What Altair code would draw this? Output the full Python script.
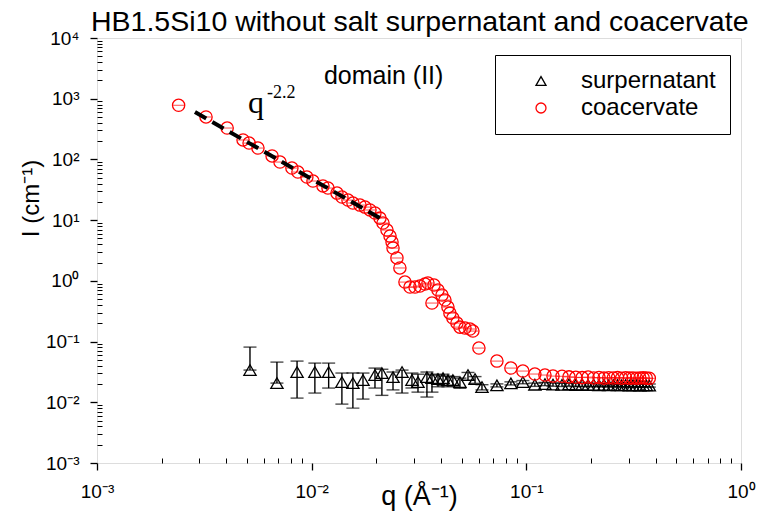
import altair as alt
import pandas as pd

# ---------------- data ----------------
coac_q = [0.00240, 0.00322, 0.00404, 0.00479, 0.00511, 0.00562, 0.00654, 0.00712, 0.00809, 0.00863,
          0.00950, 0.01014, 0.01129, 0.01191, 0.01312, 0.01384, 0.01476, 0.01557, 0.01679, 0.01771,
          0.01869, 0.01972, 0.02081, 0.02149, 0.02243, 0.02317, 0.02368, 0.02393, 0.02496, 0.02576,
          0.02720, 0.02871, 0.03030, 0.03194, 0.03371, 0.03481, 0.03634, 0.03714, 0.03877, 0.04046,
          0.04176, 0.04312, 0.04406, 0.04548, 0.04751, 0.04906, 0.05176, 0.05462, 0.05637, 0.06013,
          0.07294, 0.08474, 0.09636, 0.1096, 0.1221, 0.1331, 0.1466, 0.158, 0.170, 0.182,
          0.194, 0.206, 0.218, 0.230, 0.242, 0.254, 0.266, 0.278, 0.290, 0.302,
          0.314, 0.326, 0.338, 0.350, 0.362, 0.374]
coac_I = [780, 500, 329, 209, 186, 154, 114, 90.6, 72.1, 62.0,
          51.3, 44.1, 36.5, 33.8, 27.9, 24.0, 21.4, 19.1, 17.7, 16.4,
          14.7, 13.1, 10.8, 8.96, 6.87, 5.47, 4.36, 3.47, 2.38, 1.63,
          0.955, 0.790, 0.790, 0.821, 0.885, 0.920, 0.431, 0.853, 0.705, 0.583,
          0.483, 0.370, 0.294, 0.244, 0.202, 0.173, 0.167, 0.161, 0.149, 0.0782,
          0.0477, 0.0366, 0.0327, 0.0292, 0.0281, 0.0270, 0.0268, 0.0262, 0.0258, 0.0255,
          0.0260, 0.0252, 0.0256, 0.0250, 0.0254, 0.0251, 0.0255, 0.0249, 0.0253, 0.0250,
          0.0252, 0.0249, 0.0251, 0.0253, 0.0250, 0.0248]

sup_q = [0.00516, 0.00689, 0.00855, 0.01035, 0.01200, 0.01383, 0.01556, 0.01734, 0.01972, 0.02124,
         0.02393, 0.02636, 0.02932, 0.03128, 0.03443, 0.03634, 0.03877, 0.04092, 0.04312, 0.04548,
         0.04906, 0.05348, 0.05768, 0.06214,
         0.07294, 0.08474, 0.09636, 0.1096, 0.1221, 0.1331, 0.1466, 0.158, 0.170, 0.182,
         0.194, 0.206, 0.218, 0.230, 0.242, 0.254, 0.266, 0.278, 0.290, 0.302,
         0.314, 0.326, 0.338, 0.350, 0.362, 0.374]
sup_I = [0.0339, 0.0207, 0.0315, 0.0315, 0.0315, 0.0215, 0.0207, 0.0232, 0.0281, 0.0303,
         0.0260, 0.0315, 0.0232, 0.0215, 0.0260, 0.0251, 0.0241, 0.0251, 0.0232, 0.0232,
         0.0215, 0.0281, 0.0241, 0.0178,
         0.0190, 0.0205, 0.0215, 0.0195, 0.0200, 0.0196, 0.0194, 0.0197, 0.0193, 0.0195,
         0.0192, 0.0194, 0.0191, 0.0193, 0.0190, 0.0192, 0.0191, 0.0190, 0.0192, 0.0189,
         0.0191, 0.0190, 0.0189, 0.0191, 0.0190, 0.0189]
sup_hi = [0.0811, 0.0459, 0.0477, 0.0442, 0.0442, 0.0303, 0.0303, 0.0303, 0.0366, 0.0350,
          0.0315, 0.0339, 0.0303, 0.0290, 0.0315, 0.0290, 0.0280, 0.0290, 0.0270, 0.0265,
          0.0250, 0.0310, 0.0265, 0.0195,
          0.0201, 0.0217, 0.0228, 0.0207, 0.0212, 0.0208, 0.0206, 0.0209, 0.0205, 0.0207,
          0.0204, 0.0206, 0.0202, 0.0205, 0.0201, 0.0204, 0.0202, 0.0201, 0.0204, 0.0200,
          0.0202, 0.0201, 0.0200, 0.0202, 0.0201, 0.0200]
sup_lo = [0.0339, 0.0207, 0.01172, 0.01419, 0.01715, 0.00933, 0.00802, 0.01129, 0.01715, 0.0130,
          0.0160, 0.0142, 0.0172, 0.0147, 0.0122, 0.0147, 0.0180, 0.0190, 0.0180, 0.0185,
          0.0170, 0.0230, 0.0205, 0.0160,
          0.0179, 0.0193, 0.0202, 0.0183, 0.0188, 0.0184, 0.0182, 0.0185, 0.0181, 0.0183,
          0.0180, 0.0182, 0.0180, 0.0181, 0.0179, 0.0180, 0.0180, 0.0179, 0.0180, 0.0178,
          0.0180, 0.0179, 0.0178, 0.0180, 0.0179, 0.0178]

fit_q = [0.00286, 0.0208]
fit_I = [604, 10.8]

series_names = ["surpernatant", "coacervate"]
series_colors = ["black", "red"]
series_shapes = ["triangle-up", "circle"]

x_major = [0.001, 0.01, 0.1, 1]
y_major = [0.001, 0.01, 0.1, 1, 10, 100, 1000, 10000]
x_minor = [m * d for d in [0.001, 0.01, 0.1] for m in range(2, 10)]
y_minor = [m * d for d in [0.001, 0.01, 0.1, 1, 10, 100, 1000] for m in range(2, 10)]

title_text = "HB1.5Si10 without salt surpernatant and coacervate"

# ---------------- tables ----------------
coac = pd.DataFrame({"q": coac_q, "I": coac_I, "series": series_names[1]})
sup = pd.DataFrame({"q": sup_q, "I": sup_I, "lo": sup_lo, "hi": sup_hi, "series": series_names[0]})
pts = pd.concat([sup[["q", "I", "series"]], coac], ignore_index=True)
fit = pd.DataFrame({"q": fit_q, "I": fit_I})

xscale = alt.Scale(type="log", domain=[0.001, 1], nice=False)
yscale = alt.Scale(type="log", domain=[0.001, 10000], nice=False)

sup_expr = "['\u207b\u00b3','\u207b\u00b2','\u207b\u00b9','\u2070','\u00b9','\u00b2','\u00b3','\u2074'][round(log(datum.value)/LN10)+3]"
label_expr = "'10' + " + sup_expr

FONT = "Liberation Sans"

x_axis = alt.Axis(values=x_major, labelExpr=label_expr, tickSize=7, tickWidth=1.3, tickColor="black",
                  domain=False, grid=False, labelFont=FONT, labelFontSize=19, labelColor="black",
                  labelPadding=12, title="q (\u00c5\u207b\u00b9)", titleFont=FONT, titleFontSize=27,
                  titleFontWeight="normal", titleColor="black", titleX=322, titleY=41,
                  titleAlign="center", titleBaseline="alphabetic", orient="bottom",
                  labelFlush=False)
y_axis = alt.Axis(values=y_major, labelExpr=label_expr, tickSize=7, tickWidth=1.3, tickColor="black",
                  domain=False, grid=False, labelFont=FONT, labelFontSize=19, labelColor="black",
                  labelPadding=11, title="I (cm\u207b\u00b9)", titleFont=FONT, titleFontSize=24,
                  titleFontWeight="normal", titleColor="black", titleAngle=-90,
                  titleX=-66, titleY=160, titleAlign="center", titleBaseline="middle",
                  orient="left", labelFlush=False)
x_minor_axis = alt.Axis(values=x_minor, labels=False, domain=False, grid=False, tickSize=5,
                        tickWidth=1, tickColor="black", offset=-5, orient="bottom", title=None)
y_minor_axis = alt.Axis(values=y_minor, labels=False, domain=False, grid=False, tickSize=5,
                        tickWidth=1, tickColor="black", offset=-5, orient="left", title=None)

legend = alt.Legend(title=None, orient="none", legendX=398, legendY=17, strokeColor="black",
                    fillColor="white", padding=14, symbolOffset=20, labelOffset=28,
                    labelFont=FONT, labelFontSize=24, labelColor="black", symbolSize=100,
                    symbolStrokeWidth=1.3, rowPadding=3, cornerRadius=0)

# ---------------- layers ----------------
errbars = alt.Chart(sup).mark_errorbar(ticks=True, size=13, thickness=1.4, color="black").encode(
    x=alt.X("q:Q", scale=xscale, axis=None),
    y=alt.Y("lo:Q", scale=yscale, axis=None, title=None),
    y2="hi:Q",
)

coac_caps = alt.Chart(coac).mark_tick(orient="horizontal", size=11, thickness=1, color="red").encode(
    x=alt.X("q:Q", scale=xscale, axis=None),
    y=alt.Y("I:Q", scale=yscale, axis=None),
)

points = alt.Chart(pts).mark_point(filled=False, size=150, strokeWidth=1.3, opacity=1).encode(
    x=alt.X("q:Q", scale=xscale, axis=x_axis),
    y=alt.Y("I:Q", scale=yscale, axis=y_axis),
    color=alt.Color("series:N", scale=alt.Scale(domain=series_names, range=series_colors), legend=legend),
    shape=alt.Shape("series:N", scale=alt.Scale(domain=series_names, range=series_shapes), legend=legend),
    order=alt.Order("series:N", sort="descending"),
)

fit_line = alt.Chart(fit).mark_line(color="black", strokeWidth=4, strokeDash=[13, 7]).encode(
    x=alt.X("q:Q", scale=xscale, axis=x_minor_axis),
    y=alt.Y("I:Q", scale=yscale, axis=y_minor_axis),
)

ann_q_main = pd.DataFrame({"q": [0.00505], "I": [581], "t": ["q"]})
ann_q_exp = pd.DataFrame({"q": [0.00619], "I": [1027], "t": ["-2.2"]})
ann_dom = pd.DataFrame({"q": [0.01140], "I": [1746], "t": ["domain (II)"]})

def text_layer(df, font, size):
    return alt.Chart(df).mark_text(font=font, fontSize=size, align="left", baseline="alphabetic",
                                   color="black").encode(
        x=alt.X("q:Q", scale=xscale, axis=None),
        y=alt.Y("I:Q", scale=yscale, axis=None),
        text="t:N",
    )

chart = alt.layer(
    errbars,
    points,
    coac_caps,
    fit_line,
    text_layer(ann_q_main, "Liberation Serif", 32),
    text_layer(ann_q_exp, "Liberation Serif", 18),
    text_layer(ann_dom, FONT, 25),
).resolve_axis(x="independent", y="independent").properties(
    width=644,
    height=425,
    title=alt.TitleParams(title_text, font=FONT, fontSize=28.5, fontWeight="normal", color="black",
                          anchor="start", frame="group", dx=-6, dy=15, offset=8),
    autosize=alt.AutoSizeParams(type="none"),
    padding={"left": 89, "top": 30, "right": 15, "bottom": 50},
).configure_view(stroke="black", strokeWidth=1.5).configure(background="white")

chart.save("out.html", embed_options={"renderer": "svg", "actions": False})
